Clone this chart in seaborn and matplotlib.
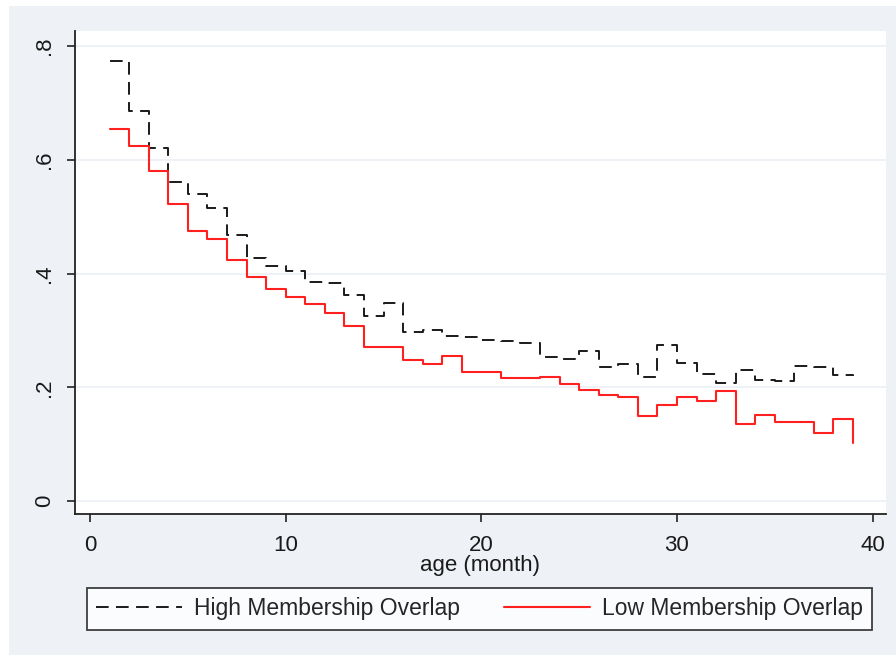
import matplotlib
matplotlib.use("Agg")
import matplotlib.pyplot as plt
import seaborn as sns
import pandas as pd
import numpy as np
from matplotlib.patches import Rectangle

months = list(range(1, 40))
high_overlap = [0.774, 0.686, 0.620, 0.561, 0.539, 0.516, 0.468, 0.427, 0.414, 0.404,
                0.385, 0.383, 0.363, 0.326, 0.349, 0.297, 0.300, 0.290, 0.288, 0.283,
                0.281, 0.278, 0.254, 0.250, 0.264, 0.235, 0.241, 0.218, 0.274, 0.242,
                0.223, 0.207, 0.230, 0.213, 0.211, 0.237, 0.235, 0.221, 0.220]
low_overlap = [0.654, 0.624, 0.581, 0.522, 0.474, 0.460, 0.424, 0.394, 0.373, 0.359,
               0.346, 0.330, 0.307, 0.270, 0.270, 0.248, 0.241, 0.255, 0.227, 0.227,
               0.216, 0.216, 0.218, 0.205, 0.195, 0.186, 0.182, 0.149, 0.169, 0.182,
               0.176, 0.194, 0.136, 0.152, 0.139, 0.139, 0.120, 0.1435, 0.1025]
x_ticks = [0, 10, 20, 30, 40]
y_ticks = [0, 0.2, 0.4, 0.6, 0.8]
y_tick_labels = ["0", ".2", ".4", ".6", ".8"]
series_names = ["High Membership Overlap", "Low Membership Overlap"]

sns.set_theme(style="white")
plt.rcParams['font.family'] = ['Liberation Sans Narrow', 'Liberation Sans', 'DejaVu Sans']

FS = 16
W, H = 896, 655
fig = plt.figure(figsize=(W / 100, H / 100), dpi=100)
fig.patch.set_facecolor("white")
bg = "#EEF1F6"
fig.patches.append(Rectangle((9 / W, 0), 1 - 9 / W, 1 - 6 / H, transform=fig.transFigure,
                             facecolor=bg, edgecolor="none", zorder=-10))

ax = fig.add_axes([75 / W, 1 - 513.5 / H, (885.5 - 75) / W, (513.5 - 30.7) / H])
ax.set_facecolor("white")

df_high = pd.DataFrame({"age": months, "value": high_overlap})
df_low = pd.DataFrame({"age": months, "value": low_overlap})

sns.lineplot(data=df_high, x="age", y="value", ax=ax, color="#1a1a1a", lw=1.4,
             drawstyle="steps-post", label=series_names[0],
             linestyle=(0, (6.5, 3.8)))
sns.lineplot(data=df_low, x="age", y="value", ax=ax, color="#ff2020", lw=1.5,
             drawstyle="steps-post", label=series_names[1])

ax.set_xlim(-0.77, 40.66)
ax.set_ylim(-0.022, 0.827)
ax.set_xticks(x_ticks)
ax.set_xticklabels([str(t) for t in x_ticks])
ax.set_yticks(y_ticks)
ax.set_yticklabels(y_tick_labels, rotation=90, va="center")

for y in y_ticks:
    ax.axhline(y, color="#EDF1F6", lw=1.3, zorder=0)

for s in ["top", "right"]:
    ax.spines[s].set_visible(False)
for s in ["left", "bottom"]:
    ax.spines[s].set_color("#222222")
    ax.spines[s].set_linewidth(1.3)

ax.tick_params(axis="both", which="major", direction="out", length=5.5, width=1.2,
               color="#222222", labelsize=FS, labelcolor="#1a1a1a",
               bottom=True, left=True)
ax.tick_params(axis="y", pad=9)
ax.tick_params(axis="x", pad=10)
ax.set_xlabel("age (month)", fontsize=FS, color="#1a1a1a", va="top")
ax.xaxis.set_label_coords(0.5, -0.086)
ax.set_ylabel("")

ax.get_legend().remove()
handles, labels = ax.get_legend_handles_labels()
leg = fig.legend(handles, labels, loc="center", ncol=2,
                 bbox_to_anchor=(479.5 / W, 1 - 609 / H),
                 frameon=True, fancybox=False, fontsize=16.5,
                 handlelength=3.75, handletextpad=0.55, columnspacing=1.9,
                 borderaxespad=0, borderpad=0.4)
leg.get_frame().set_edgecolor("#111111")
leg.get_frame().set_linewidth(1.3)
leg.get_frame().set_facecolor("white")

fig.savefig("out.png", dpi=100, facecolor=fig.get_facecolor())
